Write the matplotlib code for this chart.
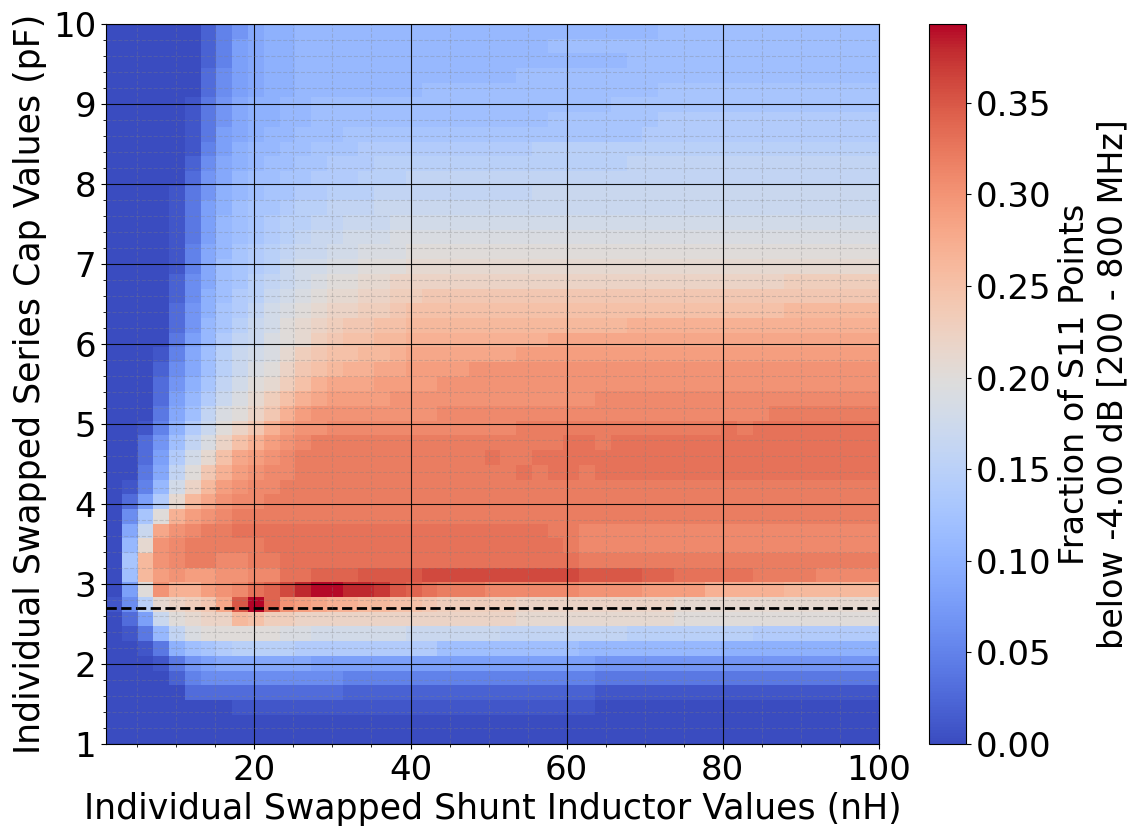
import numpy as np
import matplotlib
matplotlib.use("Agg")
import matplotlib.pyplot as plt
from matplotlib.ticker import MultipleLocator, FormatStrFormatter

# Sweep ranges (nH for the shunt inductor, pF for the series cap)
L_RANGE = (1.0, 100.0)
C_RANGE = (1.0, 10.0)
NOMINAL_CAP = 2.7  # pF, reference design value

# Fraction of S11 points below -4 dB, in percent.
# One row per cap step (bottom row = 1 pF), one column per inductor step.
FRACTION_PCT = [
    [0,0,0,0,0,0,0,0,0,0, 0,0,0,0,0,0,0,0,0,0, 0,0,0,0,0,0,0,0,0,0, 0,0,0,0,0,0,0,0,0,0, 0,0,0,0,0,0,0,0,0],
    [0,0,0,0,0,0,0,0,0,0, 0,0,0,0,0,0,0,0,0,0, 0,0,0,0,0,0,0,0,0,0, 0,0,0,0,0,0,0,0,0,0, 0,0,0,0,0,0,0,0,0],
    [0,0,0,0,0,0,0,0,1,1, 1,1,1,1,1,1,1,1,1,1, 1,1,1,1,1,1,1,1,1,1, 1,0,0,0,0,0,0,0,0,0, 0,0,0,0,0,0,0,0,0],
    [0,0,0,0,0,3,3,3,3,3, 3,3,3,3,3,2,2,2,2,2, 2,2,2,2,2,2,2,2,2,2, 2,1,1,1,1,1,1,1,1,1, 1,1,1,1,1,1,1,1,1],
    [0,0,0,0,2,5,6,6,6,6, 6,6,6,6,6,5,5,5,5,5, 5,5,5,5,5,5,5,5,5,5, 5,4,4,4,4,4,4,4,4,4, 4,4,4,4,4,4,4,4,4],
    [0,0,0,1,4,7,8,9,9,9, 9,9,9,8,8,8,8,8,8,8, 8,8,8,8,8,8,8,8,8,8, 8,7,7,7,7,7,7,7,7,7, 7,7,7,7,7,7,7,7,7],
    [0,0,1,4,10,12,13,14,15,15, 15,15,14,14,14,14,14,14,14,14, 14,12,12,12,12,12,12,12,12,12, 11,11,11,11,11,11,11,11,11,10, 10,10,10,10,10,10,10,10,10],
    [0,1,4,11,16,19,20,20,20,20, 20,19,19,18,18,18,18,18,18,17, 17,17,17,17,17,16,16,16,16,16, 16,16,16,15,15,15,15,15,15,15, 15,14,14,14,14,14,14,14,14],
    [0,3,8,17,20,21,22,22,26,25, 23,23,22,22,22,22,22,22,22,22, 22,22,22,22,22,22,21,21,21,21, 21,21,21,21,21,21,20,20,20,20, 20,20,20,20,20,20,20,20,20],
    [1,6,15,21,22,23,24,28,35,39.3, 34,30,29,28,27,27,26,26,25,25, 24,23,23,23,23,23,22,22,22,22, 22,22,22,22,22,22,21,21,21,21, 21,21,21,21,21,21,21,21,21],
    [0,8,20,30,27,27,29,30,31,33, 34,36,38,39,39,38,38,37,35,34, 33,32,32,32,31,31,31,31,31,31, 30,30,30,30,29,29,29,29,27,27, 27,27,27,26,26,26,26,26,26],
    [0,12,26,29,30,29,29,30,30,31, 31,33,33,34,34,34,35,35,35,35, 36,36,36,36,36,36,36,36,36,36, 35,35,35,35,34,34,33,33,33,33, 33,32,32,32,32,31,31,31,31],
    [0,13,26,30,31,32,32,31,31,32, 32,33,33,33,33,33,33,33,33,33, 33,33,33,33,33,33,33,33,33,33, 32,32,32,32,32,32,32,32,32,32, 32,32,32,32,32,32,32,32,32],
    [0,11,21,30,31,32,32,32,32,32, 33,33,33,33,33,33,33,33,33,33, 33,33,33,33,33,33,33,33,33,32, 31,31,31,31,31,31,31,31,31,31, 31,31,31,31,31,31,31,31,31],
    [0,9,17,28,30,31,32,32,33,33, 33,33,33,33,33,33,33,33,33,33, 33,33,33,33,33,33,33,33,32,32, 31,31,31,31,31,31,31,31,31,31, 31,31,31,31,31,31,31,31,31],
    [0,6,13,20,27,29,30,31,32,32, 32,32,32,32,32,32,32,32,32,32, 32,32,32,32,32,32,32,32,32,32, 32,32,32,32,32,32,32,32,32,32, 32,32,32,32,32,32,32,32,32],
    [0,3,8,14,21,26,28,30,31,31, 32,32,32,32,32,32,32,32,32,32, 32,32,32,32,32,32,32,32,32,32, 32,32,32,32,32,32,32,32,32,32, 32,32,32,32,32,32,32,32,32],
    [0,1,5,11,18,22,26,29,30,31, 31,32,32,32,32,32,32,32,32,32, 32,32,32,32,32,32,32,32,32,32, 32,32,32,32,32,32,32,32,32,32, 32,32,32,32,32,32,32,32,32],
    [0,0,4,9,16,20,24,27,29,30, 31,31,32,32,32,32,32,32,32,32, 32,32,32,32,32,32,33,32,33,33, 32,33,33,33,33,33,33,33,33,33, 33,33,33,33,33,33,33,33,33],
    [0,0,3,8,14,18,21,25,28,29, 30,31,32,32,32,32,32,32,32,32, 32,32,32,32,33,32,32,33,33,33, 33,33,33,33,33,33,33,33,33,33, 33,33,33,33,33,33,33,33,33],
    [0,0,3,7,12,16,19,22,25,27, 29,30,31,32,32,32,32,32,32,32, 32,32,32,32,32,32,32,32,32,33, 33,32,33,33,33,33,33,33,33,33, 33,33,33,33,33,33,33,33,33],
    [0,0,1,5,10,14,17,20,22,24, 27,29,30,30,31,31,31,31,31,31, 31,31,31,31,31,31,32,32,32,32, 32,32,32,32,32,32,32,32,32,33, 32,33,33,33,33,33,33,33,33],
    [0,0,0,4,9,12,16,19,20,22, 24,27,29,30,30,30,30,30,30,30, 30,31,31,31,31,31,31,31,31,31, 31,31,31,31,31,31,31,31,31,31, 31,31,32,32,32,32,32,32,32],
    [0,0,0,3,8,11,14,17,19,21, 23,25,27,28,29,29,29,29,30,30, 30,30,30,30,30,30,30,30,30,30, 30,31,31,31,31,31,31,31,31,31, 31,31,31,31,31,31,31,31,31],
    [0,0,0,3,7,10,13,16,18,20, 21,23,25,27,28,28,28,29,29,29, 29,30,30,30,30,30,30,30,30,30, 30,30,30,30,30,30,30,30,30,30, 30,30,30,30,30,30,30,30,30],
    [0,0,0,2,6,9,12,15,17,19, 20,22,24,25,26,27,27,28,28,29, 29,29,29,30,30,30,30,30,30,30, 30,30,30,30,30,30,30,30,30,30, 30,30,30,30,30,30,30,30,30],
    [0,0,0,1,5,9,12,15,17,18, 19,21,23,24,25,25,26,26,27,28, 28,28,28,28,28,28,29,29,29,29, 29,29,29,29,29,29,29,29,29,29, 29,29,29,29,29,29,29,29,29],
    [0,0,0,0,4,8,11,14,16,17, 19,20,21,23,24,25,25,26,26,27, 27,27,27,27,27,27,27,27,28,28, 28,28,28,28,28,28,28,28,28,28, 28,28,28,28,28,28,28,28,28],
    [0,0,0,0,3,7,11,13,15,17, 18,20,21,22,23,24,24,25,25,26, 26,26,26,26,26,26,26,26,26,26, 26,26,26,27,27,27,27,27,27,27, 27,27,27,27,27,27,27,27,27],
    [0,0,0,0,3,7,10,13,14,16, 18,19,20,21,22,22,23,23,24,25, 25,25,25,25,25,25,25,25,25,25, 25,25,25,25,25,25,25,25,25,25, 25,25,25,26,26,26,26,26,26],
    [0,0,0,0,2,6,10,12,14,15, 17,18,19,20,21,21,22,22,23,23, 24,24,24,24,24,24,24,24,24,24, 24,24,24,24,24,24,24,24,24,24, 24,24,24,24,24,24,24,24,24],
    [0,0,0,0,2,6,9,12,13,15, 16,17,18,19,20,20,21,21,22,22, 22,22,22,22,22,22,22,22,22,22, 22,22,22,22,22,22,22,22,22,22, 22,22,22,23,23,23,23,23,23],
    [0,0,0,0,1,5,9,12,13,14, 15,17,18,18,19,19,20,20,20,21, 21,21,21,21,21,21,21,21,21,21, 21,21,21,21,21,21,21,21,21,21, 21,21,21,21,21,21,21,21,21],
    [0,0,0,0,1,5,9,11,13,14, 15,16,17,17,18,18,19,19,19,20, 20,20,20,20,20,20,20,20,20,20, 20,20,20,20,20,20,20,20,20,20, 20,20,20,20,20,20,20,20,20],
    [0,0,0,0,1,4,8,11,12,13, 14,15,16,17,17,18,18,18,19,19, 19,19,19,19,19,19,19,19,19,19, 19,19,19,19,19,19,19,19,19,19, 19,19,19,19,19,19,19,19,19],
    [0,0,0,0,1,4,8,11,12,13, 14,15,15,16,16,17,17,17,18,18, 18,18,18,18,18,18,18,18,18,18, 18,18,18,18,18,18,18,18,18,18, 18,18,18,18,18,18,18,18,18],
    [0,0,0,0,1,4,8,10,12,13, 13,14,15,15,16,16,16,17,17,17, 17,17,17,17,17,17,17,17,17,17, 17,17,17,17,17,17,17,17,17,17, 17,17,17,17,17,17,17,17,17],
    [0,0,0,0,1,4,7,10,11,12, 13,13,14,14,15,15,15,16,16,16, 16,16,16,16,16,16,16,17,17,17, 17,17,17,17,17,17,17,17,17,17, 17,17,17,17,17,17,17,17,17],
    [0,0,0,0,0,3,7,9,11,12, 12,13,13,14,14,14,15,15,15,16, 16,16,16,16,16,16,16,16,16,16, 16,16,16,16,16,16,16,16,16,16, 16,16,16,16,16,16,16,16,16],
    [0,0,0,0,0,2,6,9,10,11, 12,12,13,13,14,14,14,15,15,15, 15,15,15,15,15,15,15,15,15,15, 15,15,15,16,16,16,16,16,16,16, 16,16,16,16,16,16,16,16,16],
    [0,0,0,0,0,1,5,8,10,11, 11,12,12,13,13,13,14,14,14,14, 14,14,14,14,14,14,14,15,15,15, 15,15,15,15,15,15,15,15,15,15, 15,15,15,15,15,15,15,15,15],
    [0,0,0,0,0,1,4,8,9,10, 11,11,12,12,12,13,13,13,13,13, 13,13,13,13,13,13,13,13,13,13, 13,13,13,13,14,14,14,14,14,14, 14,14,14,14,14,14,14,14,14],
    [0,0,0,0,0,1,4,7,9,10, 10,11,11,12,12,12,12,12,12,12, 12,12,12,12,12,12,12,12,13,13, 13,13,13,13,13,14,14,14,14,14, 14,14,14,14,14,14,14,14,14],
    [0,0,0,0,0,1,4,7,9,10, 10,11,11,12,12,12,12,12,12,12, 12,12,12,12,12,12,12,12,12,12, 12,12,13,13,13,13,13,13,13,13, 13,13,13,13,13,13,13,13,13],
    [0,0,0,0,0,0,3,6,8,9, 10,10,11,11,11,11,11,11,11,11, 12,12,12,12,12,12,12,12,12,12, 12,12,12,12,12,13,13,13,13,13, 13,13,13,13,13,13,13,13,13],
    [0,0,0,0,0,0,3,6,8,9, 10,10,11,11,11,11,11,11,11,11, 11,11,11,11,11,11,12,12,12,12, 12,12,12,12,12,12,12,12,12,12, 12,12,12,12,12,12,12,12,12],
    [0,0,0,0,0,0,2,5,8,9, 10,10,11,11,11,11,11,11,11,11, 11,11,11,11,11,11,11,11,11,11, 11,11,11,12,12,12,12,12,12,12, 12,12,12,12,12,12,12,12,12],
    [0,0,0,0,0,0,2,5,8,9, 10,10,11,11,11,11,11,11,11,11, 11,11,11,11,11,11,11,11,12,12, 12,12,12,12,12,12,12,12,12,12, 12,12,12,12,12,12,12,12,12],
    [0,0,0,0,0,0,2,5,7,9, 10,10,11,11,11,11,11,11,11,11, 11,11,11,11,11,11,11,11,11,11, 11,11,11,11,11,12,12,12,12,12, 12,12,12,12,12,12,12,12,12],
]

X_TICKS = [20, 40, 60, 80, 100]
Y_TICKS = [1, 2, 3, 4, 5, 6, 7, 8, 9, 10]
CBAR_TICKS = [0.00, 0.05, 0.10, 0.15, 0.20, 0.25, 0.30, 0.35]

X_LABEL = "Individual Swapped Shunt Inductor Values (nH)"
Y_LABEL = "Individual Swapped Series Cap Values (pF)"
CBAR_LABEL = "Fraction of S11 Points\nbelow -4.00 dB [200 - 800 MHz]"

fraction = np.array(FRACTION_PCT, dtype=float) / 100.0

plt.rcParams["font.family"] = "DejaVu Sans"

fig = plt.figure(figsize=(11.35, 8.31), dpi=100)
ax = fig.add_axes([106 / 1135, 87 / 831, 773 / 1135, 720 / 831])

im = ax.imshow(
    fraction,
    origin="lower",
    extent=[L_RANGE[0], L_RANGE[1], C_RANGE[0], C_RANGE[1]],
    aspect="auto",
    cmap="coolwarm",
    interpolation="nearest",
    vmin=0.0,
    vmax=fraction.max(),
)

ax.axhline(NOMINAL_CAP, color="black", linestyle="--", linewidth=2)

ax.set_xlim(*L_RANGE)
ax.set_ylim(*C_RANGE)
ax.set_xticks(X_TICKS)
ax.set_yticks(Y_TICKS)
ax.xaxis.set_minor_locator(MultipleLocator(5))
ax.yaxis.set_minor_locator(MultipleLocator(0.2))
ax.tick_params(axis="both", which="major", labelsize=24.5)

ax.set_axisbelow(False)
ax.grid(which="major", color="black", linestyle="-", linewidth=0.8, alpha=0.9)
ax.grid(which="minor", color="grey", linestyle="--", linewidth=0.8, alpha=0.3)

ax.set_xlabel(X_LABEL, fontsize=25)
ax.set_ylabel(Y_LABEL, fontsize=25)

cax = fig.add_axes([929 / 1135, 87 / 831, 37 / 1135, 720 / 831])
cbar = fig.colorbar(im, cax=cax, ticks=CBAR_TICKS)
cbar.ax.yaxis.set_major_formatter(FormatStrFormatter("%.2f"))
cbar.ax.tick_params(labelsize=24.5)
cbar.set_label(CBAR_LABEL, fontsize=24, labelpad=5)

fig.savefig("out.png", dpi=100)
